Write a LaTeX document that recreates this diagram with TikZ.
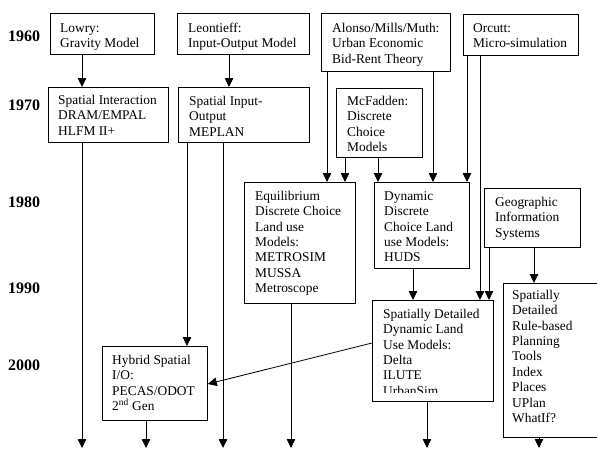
\documentclass[tikz,border=0pt]{standalone}
\usepackage{fontspec}
\setmainfont{Liberation Serif}
\usetikzlibrary{arrows.meta}
\newcommand{\fr}{\rule{0pt}{12pt}}
\tikzset{
  box/.style={draw, line width=0.8pt, inner sep=0pt, anchor=north west},
  txt/.style={inner sep=0pt, anchor=north west, align=left, font={\fontsize{13.4}{15.4}\selectfont}},
  yr/.style={inner sep=0pt, anchor=base west, font={\fontsize{16}{18}\selectfont\bfseries}},
  arr/.style={line width=0.8pt, -{Triangle[length=9pt,width=8.5pt]}}
}
\newcommand{\bx}[5]{\node[box, minimum width={(#4-#2)*1pt}, minimum height={(#5-#3)*1pt}] (#1) at (#2,#3) {};}
\begin{document}
\begin{tikzpicture}[x=1pt,y=-1pt]
\useasboundingbox (0,0) rectangle (597,450);
% years
\node[yr] (y60) at (8,41) {1960};
\node[yr] (y70) at (8,110) {1970};
\node[yr] (y80) at (8,207) {1980};
\node[yr] (y90) at (8,293) {1990};
\node[yr] (y00) at (8,370) {2000};
% boxes
\bx{lowry}{50}{13}{154}{54}
\bx{leon}{177}{13}{309}{54}
\bx{alonso}{321}{13}{450}{71}
\bx{orcutt}{463}{14}{578}{55}
\bx{si}{48}{87}{168}{142}
\bx{sio}{178}{87}{309}{142}
\bx{mcf}{336}{88}{422}{157}
\bx{equil}{244}{182}{355}{303}
\bx{dyn}{374}{182}{469}{268}
\bx{gis}{484}{188}{580}{247}
\bx{rule}{503}{283}{602}{437}
\bx{sdd}{372}{300}{493}{401}
\bx{hyb}{102}{346}{207}{420}
% texts
\node[txt] (lowry-t) at (60,20) {\fr Lowry:\\Gravity Model};
\node[txt] (leon-t) at (188,20) {\fr Leontieff:\\Input-Output Model};
\node[txt] (alonso-t) at (332,20) {\fr Alonso/Mills/Muth:\\Urban Economic\\Bid-Rent Theory};
\node[txt] (orcutt-t) at (473,20) {\fr Orcutt:\\Micro-simulation};
\node[txt] (si-t) at (58,92) {\fr Spatial Interaction\\DRAM/EMPAL\\HLFM II+};
\node[txt] (sio-t) at (189,93) {\fr Spatial Input-\\Output\\MEPLAN};
\node[txt] (mcf-t) at (347,93) {\fr McFadden:\\Discrete\\Choice\\Models};
\node[txt] (equil-t) at (255,188) {\fr Equilibrium\\Discrete Choice\\Land use\\Models:\\METROSIM\\MUSSA\\Metroscope};
\node[txt] (dyn-t) at (384,188) {\fr Dynamic\\Discrete\\Choice Land\\use Models:\\HUDS};
\node[txt] (gis-t) at (495,194) {\fr Geographic\\Information\\Systems};
\node[txt] (rule-t) at (512,287) {\fr Spatially\\Detailed\\Rule-based\\Planning\\Tools\\Index\\Places\\UPlan\\WhatIf?};
\begin{scope}
\clip (372,300) rectangle (493,392);
\node[txt] (sdd-t) at (383,306) {\fr Spatially Detailed\\Dynamic Land\\Use Models:\\Delta\\ILUTE\\UrbanSim};
\end{scope}
\node[txt] (hyb-t) at (112,352) {\fr Hybrid Spatial\\I/O:\\PECAS/ODOT\\2\textsuperscript{nd} Gen};
% free ends
\coordinate (e1) at (82,448);
\coordinate (e2) at (146,448);
\coordinate (e3) at (223,448);
\coordinate (e4) at (291,448);
\coordinate (e5) at (427,448);
\coordinate (e6) at (539,448);
% connectors
\draw[arr] (lowry.south -| 82,0) -- (si.north -| 82,0);
\draw[arr] (leon.south -| 229,0) -- (sio.north -| 229,0);
\draw[arr] (si.south -| 82,0) -- (e1);
\draw[arr] (sio.south -| 187,0) -- (hyb.north -| 187,0);
\draw[arr] (sio.south -| 223,0) -- (e3);
\draw[arr] (alonso.south -| 327,0) -- (equil.north -| 327,0);
\draw[arr] (alonso.south -| 433,0) -- (dyn.north -| 433,0);
\draw[arr] (mcf.south -| 345,0) -- (equil.north -| 345,0);
\draw[arr] (mcf.south -| 378,0) -- (dyn.north -| 378,0);
\draw[arr] (orcutt.south -| 467,0) -- (dyn.north -| 467,0);
\draw[arr] (orcutt.south -| 480,0) -- (sdd.north -| 480,0);
\draw[arr] (gis.south -| 489,0) -- (sdd.north -| 489,0);
\draw[arr] (gis.south -| 534,0) -- (rule.north -| 534,0);
\draw[arr] (dyn.south -| 413,0) -- (sdd.north -| 413,0);
\draw[arr] (equil.south -| 291,0) -- (e4);
\draw[arr] (sdd.west |- 0,343) -- (hyb.east |- 0,384);
\draw[arr] (sdd.south -| 427,0) -- (e5);
\draw[arr] (rule.south -| 539,0) -- (e6);
\draw[arr] (hyb.south -| 146,0) -- (e2);
\end{tikzpicture}
\end{document}
